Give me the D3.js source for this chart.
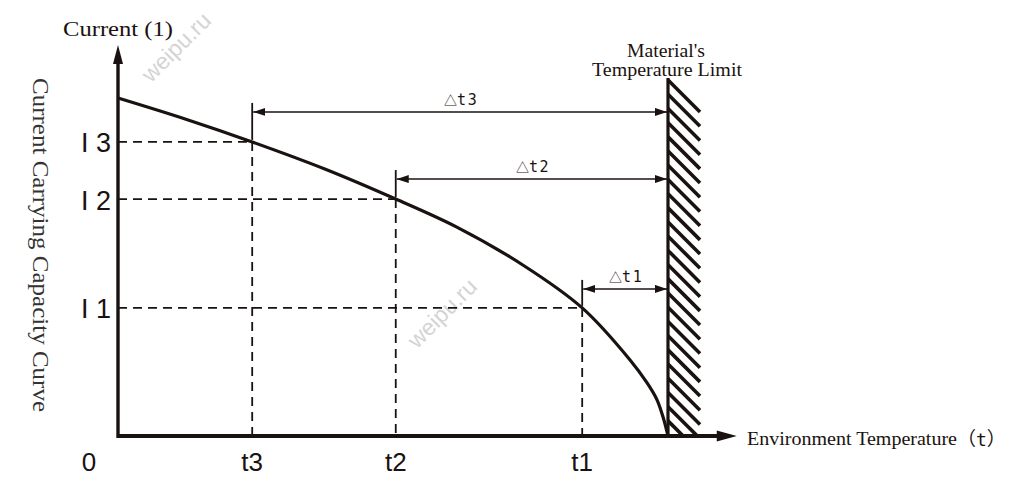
<!DOCTYPE html>
<html>
<head>
<meta charset="utf-8">
<script src="https://cdn.jsdelivr.net/npm/d3@7"></script>
<style>
  html, body { margin: 0; padding: 0; background: #fff; }
  svg { display: block; }
</style>
</head>
<body>
<div id="chart"></div>
<script>
// temperature marks (t3, t2, t1) and their current levels (I3, I2, I1)
const tLabels = ['t3', 't2', 't1'];
const tValues = [24.4, 50.5, 84.4];
const iLabels = ['I 3', 'I 2', 'I 1'];
const iValues = [87.0, 70.1, 37.9];
const deltaLabels = ['t3', 't2', 't1'];
const tempLimit = 100;

// current carrying capacity curve
const curveT = [0, 12.2, 24.4, 37.6, 50.5, 61.6, 73.6, 84.4, 93.1, 96.2, 98.0, 99.1, 100];
const curveI = [100, 93.8, 87.0, 79.0, 70.1, 61.8, 50.6, 37.9, 22.5, 15.7, 10.7, 5.6, 0];

const W = 1010, H = 478;
const svg = d3.select('#chart').append('svg').attr('width', W).attr('height', H);

const x = d3.scaleLinear().domain([0, tempLimit]).range([118, 668]);
const y = d3.scaleLinear().domain([0, 100]).range([436, 98]);
const xEnd = 112.5, yEnd = 115.7, wallTop = 105.9;
const ink = '#1a1210';
const serif = '"Liberation Serif", "Times New Roman", serif';
const sans = '"Liberation Sans", Arial, sans-serif';
const mono = '"DejaVu Sans Mono", "Liberation Mono", monospace';
const cjk = '"Noto Sans CJK SC", sans-serif';

// watermarks
[[176, 47], [442, 313]].forEach(([cx, cy]) => {
  svg.append('text').attr('transform', `translate(${cx},${cy}) rotate(-45)`)
    .attr('text-anchor', 'middle').attr('dy', '0.35em')
    .attr('font-family', sans).attr('font-size', 23).attr('fill', '#d4d4d4')
    .text('weipu.ru');
});

const defs = svg.append('defs');
defs.append('marker').attr('id', 'ah').attr('viewBox', '0 0 12 8')
  .attr('refX', 12).attr('refY', 4).attr('markerWidth', 12).attr('markerHeight', 8)
  .attr('markerUnits', 'userSpaceOnUse').attr('orient', 'auto-start-reverse')
  .append('path').attr('d', 'M0,0 L12,4 L0,8 Z').attr('fill', ink);
defs.append('clipPath').attr('id', 'wallclip').append('rect')
  .attr('x', x(tempLimit)).attr('y', y(wallTop))
  .attr('width', 36).attr('height', y(0) - y(wallTop));

const dash = '9,6';

// dashed guides
tValues.forEach((t, i) => {
  svg.append('line').attr('x1', x(0)).attr('x2', x(t))
    .attr('y1', y(iValues[i])).attr('y2', y(iValues[i]))
    .attr('stroke', ink).attr('stroke-width', 1.8).attr('stroke-dasharray', dash);
  svg.append('line').attr('x1', x(t)).attr('x2', x(t))
    .attr('y1', y(iValues[i])).attr('y2', y(0))
    .attr('stroke', ink).attr('stroke-width', 1.8).attr('stroke-dasharray', dash);
});

// delta-t arrows
const arrowOff = [30, 20, 19];
tValues.forEach((t, i) => {
  const ay = y(iValues[i]) - arrowOff[i];
  svg.append('line').attr('x1', x(t)).attr('x2', x(t))
    .attr('y1', ay - 9).attr('y2', y(iValues[i]) - 2)
    .attr('stroke', ink).attr('stroke-width', 1.8);
  svg.append('line').attr('x1', x(t) + 1).attr('x2', x(tempLimit) - 1)
    .attr('y1', ay).attr('y2', ay)
    .attr('stroke', ink).attr('stroke-width', 1.5)
    .attr('marker-start', 'url(#ah)').attr('marker-end', 'url(#ah)');
  const lbl = svg.append('text').attr('x', (x(t) + x(tempLimit)) / 2 - 16).attr('y', ay - 7)
    .attr('fill', ink);
  lbl.append('tspan').attr('font-family', cjk).attr('font-size', 13).text('\u25B3');
  lbl.append('tspan').attr('font-family', mono).attr('font-size', 15).attr('letter-spacing', 1.5)
    .text(deltaLabels[i]);
});

// hatched wall
const wall = svg.append('g').attr('clip-path', 'url(#wallclip)');
d3.range(y(wallTop) + 2, y(0) + 1, 14.2).forEach(y0 => {
  wall.append('line').attr('x1', x(tempLimit)).attr('y1', y0)
    .attr('x2', x(tempLimit) + 32).attr('y2', y0 + 32)
    .attr('stroke', ink).attr('stroke-width', 3.6);
});
svg.append('line').attr('x1', x(tempLimit)).attr('x2', x(tempLimit))
  .attr('y1', y(wallTop)).attr('y2', y(0))
  .attr('stroke', ink).attr('stroke-width', 3.2);

// curve
const line = d3.line().x(d => x(d[0])).y(d => y(d[1])).curve(d3.curveCatmullRom.alpha(0.5));
svg.append('path').datum(d3.zip(curveT, curveI)).attr('d', line)
  .attr('fill', 'none').attr('stroke', ink).attr('stroke-width', 3.2);

// axes
svg.append('line').attr('x1', x(0)).attr('x2', x(xEnd) - 14)
  .attr('y1', y(0)).attr('y2', y(0)).attr('stroke', ink).attr('stroke-width', 3.8);
svg.append('path').attr('d', `M${x(xEnd)},${y(0)} L${x(xEnd) - 20},${y(0) - 5.5} L${x(xEnd) - 20},${y(0) + 5.5} Z`)
  .attr('fill', ink);
svg.append('line').attr('x1', x(0)).attr('x2', x(0))
  .attr('y1', y(0) + 1.9).attr('y2', y(yEnd) + 14).attr('stroke', ink).attr('stroke-width', 3.4);
svg.append('path').attr('d', `M${x(0)},${y(yEnd)} L${x(0) - 5},${y(yEnd) + 19} L${x(0) + 5},${y(yEnd) + 19} Z`)
  .attr('fill', ink);

// tick labels
iValues.forEach((v, i) => {
  svg.append('text').attr('x', 111).attr('y', y(v) + 10.5)
    .attr('text-anchor', 'end').attr('font-family', sans).attr('font-size', 27)
    .attr('fill', ink).attr('xml:space', 'preserve').text(iLabels[i]);
});
tValues.forEach((t, i) => {
  svg.append('text').attr('x', x(t)).attr('y', 471)
    .attr('text-anchor', 'middle').attr('font-family', sans).attr('font-size', 26)
    .attr('fill', ink).text(tLabels[i]);
});
svg.append('text').attr('x', 89).attr('y', 471).attr('text-anchor', 'middle')
  .attr('font-family', sans).attr('font-size', 26).attr('fill', ink).text('0');

// titles
svg.append('text').attr('x', 63).attr('y', 36).attr('font-family', serif).attr('font-size', 22)
  .attr('textLength', 110).attr('lengthAdjust', 'spacingAndGlyphs').attr('fill', ink).text('Current (1)');
svg.append('text').attr('transform', 'translate(33,78) rotate(90)')
  .attr('font-family', serif).attr('font-size', 23).attr('fill', '#333')
  .attr('textLength', 334).attr('lengthAdjust', 'spacingAndGlyphs')
  .text('Current Carrying Capacity Curve');
svg.append('text').attr('x', 666).attr('y', 57).attr('text-anchor', 'middle')
  .attr('font-family', serif).attr('font-size', 19).attr('fill', ink)
  .attr('textLength', 78).attr('lengthAdjust', 'spacingAndGlyphs').text("Material's");
svg.append('text').attr('x', 667).attr('y', 76).attr('text-anchor', 'middle')
  .attr('font-family', serif).attr('font-size', 19).attr('fill', ink)
  .attr('textLength', 150).attr('lengthAdjust', 'spacingAndGlyphs').text('Temperature Limit');
svg.append('text').attr('x', 747).attr('y', 445)
  .attr('font-family', serif).attr('font-size', 19).attr('fill', ink)
  .attr('textLength', 210).attr('lengthAdjust', 'spacingAndGlyphs').text('Environment Temperature');
const env = svg.append('text').attr('x', 957).attr('y', 446).attr('fill', ink);
env.append('tspan').attr('font-family', cjk).attr('font-size', 19).text('\uFF08');
env.append('tspan').attr('font-family', mono).attr('font-size', 18).text('t');
env.append('tspan').attr('font-family', cjk).attr('font-size', 19).text('\uFF09');
</script>
</body>
</html>
